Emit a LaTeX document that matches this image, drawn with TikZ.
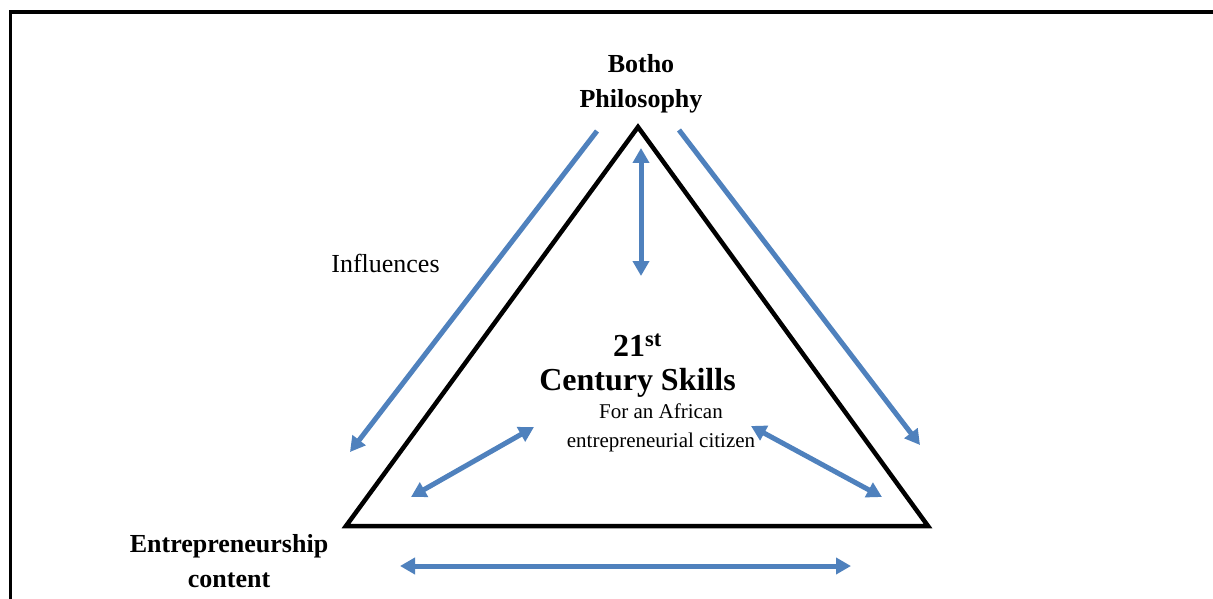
\documentclass[tikz,border=0pt]{standalone}
\usepackage{fontspec}
\setmainfont{Liberation Serif}
\usetikzlibrary{arrows.meta}
\definecolor{linkblue}{RGB}{79,129,189}

\begin{document}
\begin{tikzpicture}
        [x=1pt, y=-1pt,
         heading/.style={font=\fontsize{26}{35}\selectfont\bfseries, align=center, anchor=base, inner sep=0pt},
         link/.style={draw=linkblue, line width=5pt, -{Triangle[length=15pt,width=16pt]}},
         twoway/.style={link, {Triangle[length=15pt,width=16pt]}-{Triangle[length=15pt,width=16pt]}}]
        \useasboundingbox (0,0) rectangle (1213,599);
        \fill[white] (0,0) rectangle (1213,599);
        \draw[line width=3.5pt] (10.5,599) -- (10.5,12) -- (1213,12);

        % the triangle
        \coordinate (T) at (638,127);
        \coordinate (L) at (346,526);
        \coordinate (R) at (928,526);
        \draw[line width=4.5pt] (T) -- (L) -- (R) -- cycle;

        % labels
        \node[heading] (botho) at (641,108) {Botho\\Philosophy};
        \node[heading] (entre) at (229,587) {Entrepreneurship\\content};
        \node[anchor=base, inner sep=0pt, font=\fontsize{26}{30}\selectfont] (infl) at (385.5,272) {Influences};
        \node[heading, font=\fontsize{32}{34}\selectfont\bfseries] (skills) at (637.5,390) {21\textsuperscript{st}\\Century Skills};
        \node[anchor=base, inner sep=0pt, align=center, font=\fontsize{21}{29}\selectfont] (citizen) at (661,447) {For an African\\entrepreneurial citizen};

        % arrows
        \coordinate (a1) at (597,131);  \coordinate (a2) at (350,452);
        \coordinate (b1) at (679,130);  \coordinate (b2) at (920,445);
        \coordinate (c1) at (641,148);  \coordinate (c2) at (641,276);
        \coordinate (d1) at (411,497);  \coordinate (d2) at (534,427);
        \coordinate (e1) at (751,426);  \coordinate (e2) at (882,497);
        \coordinate (f1) at (400,566);  \coordinate (f2) at (851,566);

        \draw[link] (a1) -- (a2);
        \draw[link] (b1) -- (b2);
        \draw[twoway] (c1) -- (c2);
        \draw[twoway] (d1) -- (d2);
        \draw[twoway] (e1) -- (e2);
        \draw[twoway] (f1) -- (f2);
    \end{tikzpicture}
\end{document}
